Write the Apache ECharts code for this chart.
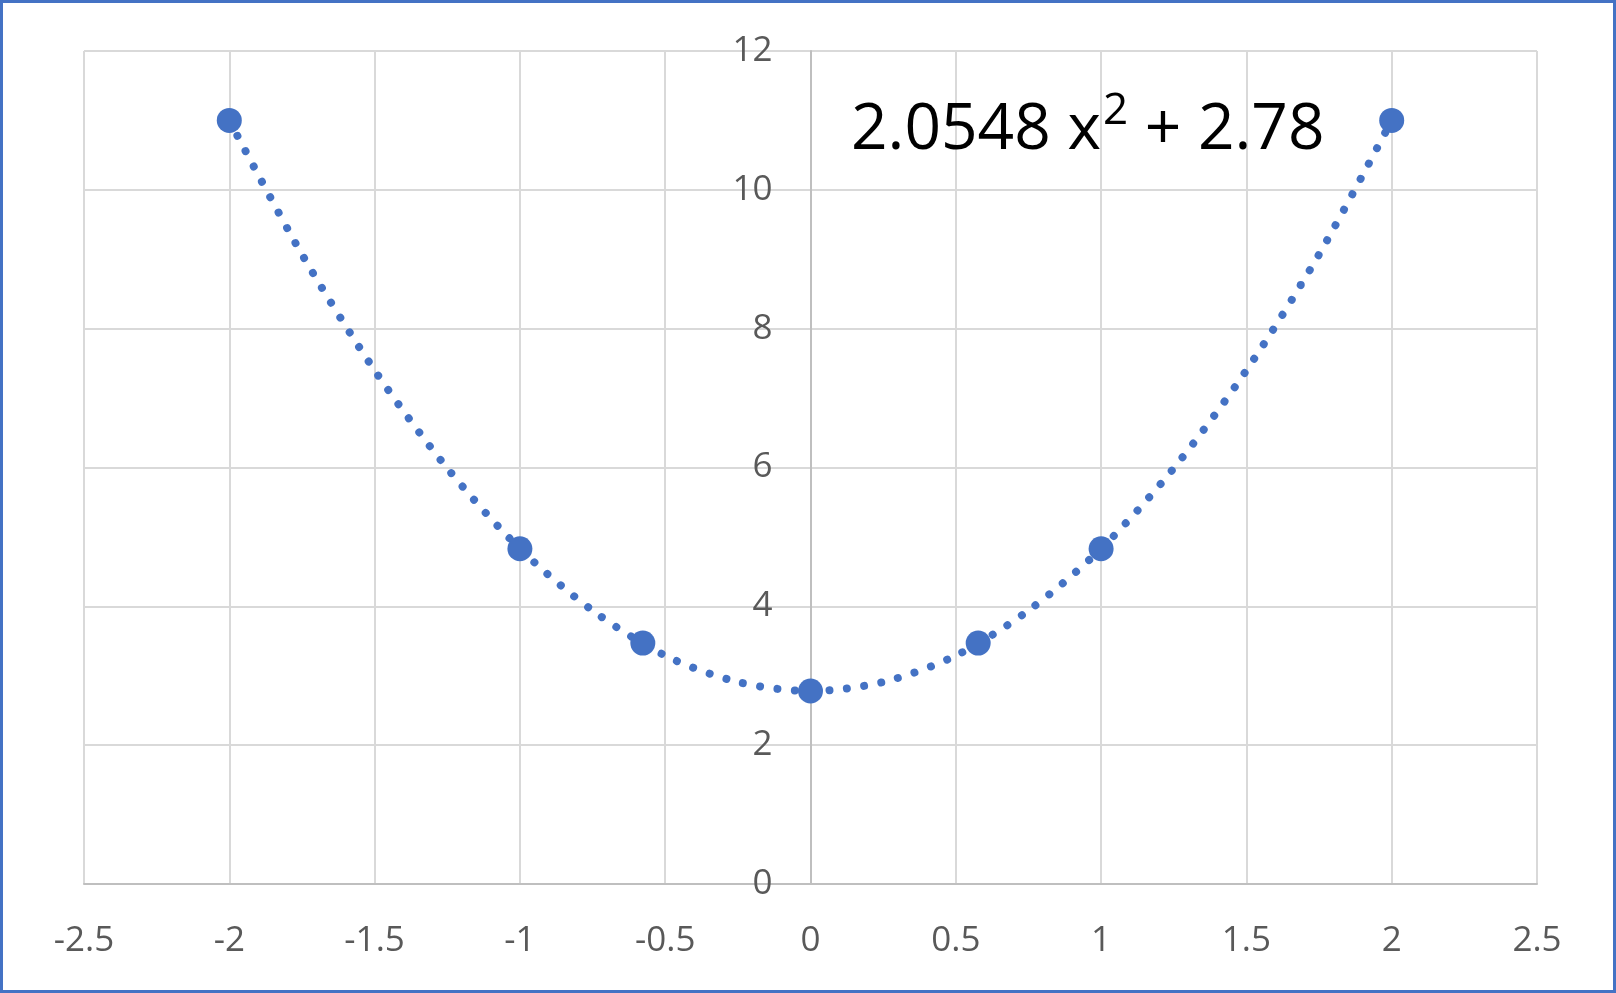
<!DOCTYPE html>
<html>
<head>
<meta charset="utf-8">
<script src="https://cdn.jsdelivr.net/npm/echarts@6/dist/echarts.min.js"></script>
<style>
html,body{margin:0;padding:0;background:#fff;}
#chart{width:1616px;height:993px;}
</style>
</head>
<body>
<div id="chart"></div>
<script>
// Data points
const xPoints = [-2, -1, -0.577, 0, 0.577, 1, 2];
const yPoints = [11.0, 4.83, 3.47, 2.78, 3.47, 4.83, 11.0];
// Trendline values
const trendX = [-2, -1.75, -1.5, -1.25, -1, -0.75, -0.5, -0.25, 0, 0.25, 0.5, 0.75, 1, 1.25, 1.5, 1.75, 2];
const trendY = [11.0, 9.07, 7.40, 5.99, 4.83, 3.94, 3.29, 2.91, 2.78, 2.91, 3.29, 3.94, 4.83, 5.99, 7.40, 9.07, 11.0];
// Equation label
const eqMain = '2.0548 x';
const eqSup = '2';
const eqTail = ' + 2.78';

const FONT = '"Open Sans", "Noto Sans", sans-serif';
const BLUE = '#4472C4';

const GRID_LEFT = 84, GRID_RIGHT = 79;
const plotWidth = 1616 - GRID_LEFT - GRID_RIGHT;
const xMin = -2.5, xMax = 2.5;

const chart = echarts.init(document.getElementById('chart'), null, {renderer: 'canvas'});
const option = {
  animation: false,
  backgroundColor: '#fff',
  grid: {left: GRID_LEFT, top: 51, right: GRID_RIGHT, bottom: 109, containLabel: false},
  xAxis: {
    type: 'value', min: xMin, max: xMax, interval: 0.5,
    axisLine: {show: true, onZero: false, lineStyle: {color: '#bfbfbf', width: 2}},
    axisTick: {show: false},
    axisLabel: {show: true, color: '#595959', fontSize: 35, fontFamily: FONT, margin: 40, showMinLabel: true, showMaxLabel: true},
    splitLine: {show: true, lineStyle: {color: '#d9d9d9', width: 2}}
  },
  yAxis: {
    type: 'value', min: 0, max: 12, interval: 2,
    position: 'left',
    // place the vertical axis at x = 0
    offset: -plotWidth * (0 - xMin) / (xMax - xMin),
    axisLine: {show: true, onZero: false, lineStyle: {color: '#bfbfbf', width: 2}},
    axisTick: {show: false},
    axisLabel: {show: true, color: '#595959', fontSize: 35, fontFamily: FONT, margin: 38},
    splitLine: {show: true, lineStyle: {color: '#d9d9d9', width: 2}}
  },
  series: [
    {
      type: 'line',
      data: trendX.map((x, i) => [x, trendY[i]]),
      smooth: 0.3,
      showSymbol: false,
      symbol: 'none',
      lineStyle: {color: BLUE, width: 8, type: [0.01, 17.4], cap: 'round'},
      z: 2,
      silent: true
    },
    {
      type: 'scatter',
      data: xPoints.map((x, i) => [x, yPoints[i]]),
      symbol: 'circle',
      symbolSize: 25,
      itemStyle: {color: BLUE, opacity: 1},
      z: 3
    }
  ],
  graphic: [
    {
      type: 'rect',
      shape: {x: 1.5, y: 1.5, width: 1613, height: 990},
      style: {fill: 'none', stroke: BLUE, lineWidth: 3},
      z: 10
    },
    {
      type: 'text',
      left: 851,
      top: 89,
      style: {
        text: '{a|' + eqMain + '}{s|' + eqSup + '}{a|' + eqTail + '}',
        rich: {
          a: {fontSize: 64, fontFamily: FONT, fill: '#000', lineHeight: 80, verticalAlign: 'middle'},
          s: {fontSize: 44, fontFamily: FONT, fill: '#000', verticalAlign: 'bottom', padding: [0, 0, 40, 2]}
        }
      },
      z: 10
    }
  ]
};
chart.setOption(option);
</script>
</body>
</html>
